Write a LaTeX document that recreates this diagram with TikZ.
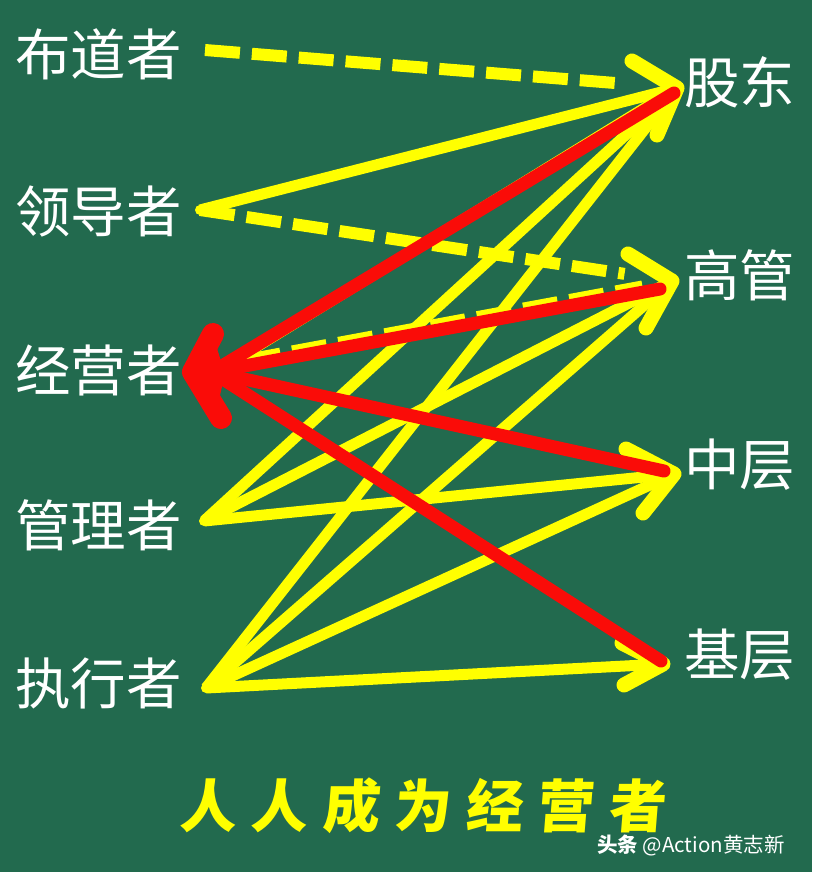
\documentclass[tikz,border=0pt]{standalone}
\usepackage{fontspec}
\usetikzlibrary{calc}
\newfontfamily\cjk{Noto Sans CJK SC}
\definecolor{bg}{RGB}{34,106,78}
\definecolor{ylw}{RGB}{255,255,0}
\definecolor{rd}{RGB}{250,12,8}
\begin{document}
\begin{tikzpicture}[x=1pt,y=-1pt,
  lab/.style={text=white,font=\cjk\fontsize{55.5}{55.5}\selectfont,inner sep=0pt,anchor=west},
  yline/.style={draw=ylw,line width=11pt,shorten >=8pt},
  ydash/.style={draw=ylw,line width=12pt,dash pattern=on 35pt off 12pt},
  chev/.style={draw=ylw,line width=15pt,line cap=round,line join=round},
  rline/.style={draw=rd,line width=13pt,line cap=round},
  rhead/.style={draw=rd,line width=22pt,line cap=round,line join=round}]
\fill[bg] (0,0) rectangle (812,872);
\useasboundingbox (0,0) rectangle (812,872);

% labels
\node[lab] (bd) at (15,54) {布道者};
\node[lab] (ld) at (15,211) {领导者};
\node[lab] (jy) at (15,370) {经营者};
\node[lab] (gl) at (15,525) {管理者};
\node[lab] (zx) at (15,683) {执行者};
\node[lab] (gd) at (684,82) {股东};
\node[lab] (gg) at (684,275) {高管};
\node[lab] (zc) at (684,465) {中层};
\node[lab] (jc) at (684,655) {基层};

% connector end points
\coordinate (sBD) at (205,50);
\coordinate (sLD) at (200,210);
\coordinate (sJY) at (232,362);
\coordinate (sJYd) at (246,360);
\coordinate (sGL) at (204,521);
\coordinate (sZX) at (206,688);
\coordinate (tGD) at (677,88);
\coordinate (tGG) at (672,281);
\coordinate (tZC) at (674,474);
\coordinate (tJC) at (663,664);
\coordinate (hJY) at (193,372);
\coordinate (rGD) at (674,93);
\coordinate (rGG) at (660,289);
\coordinate (rZC) at (664,471);
\coordinate (rJC) at (661,661);
\coordinate (eJY) at (212,372);

% yellow solid arrows
\draw[yline] (sLD) -- (tGD);
\draw[yline] (sJY) -- (tGD);
\draw[yline] (sGL) -- (tGD);
\draw[yline] (sGL) -- (tGG);
\draw[yline] (sGL) -- (tZC);
\draw[yline] (sZX) -- (tGD);
\draw[yline] (sZX) -- (tGG);
\draw[yline] (sZX) -- (tZC);
\draw[yline] (sZX) -- (tJC);
% corners at start points
\fill[ylw] (sLD) circle (5pt);
\fill[ylw] (sGL) circle (5pt);
\fill[ylw] (sZX) circle (5pt);

% yellow dashed arrows
\draw[ydash,shorten >=58pt] (sBD) -- (tGD);
\draw[ydash,shorten >=48pt] (sLD) -- (tGG);
\draw[ydash,shorten >=30pt] (sJYd) -- (tGG);

% yellow arrow heads
\draw[chev] ($(tGD)+(-45,-27)$) -- (tGD) -- ++(-20,47);
\draw[chev] ($(tGG)+(-44,-27)$) -- (tGG) -- ++(-26,47);
\draw[chev] ($(tZC)+(-48,-25)$) -- (tZC) -- ++(-31,39);
\draw[chev] ($(tJC)+(-41,-21)$) -- (tJC) -- ++(-39,21);

% red arrows
\draw[rline] (rGD) -- (eJY);
\draw[rline] (rGG) -- (eJY);
\draw[rline] (rZC) -- (eJY);
\draw[rline] (rJC) -- (eJY);
\draw[rhead] ($(hJY)+(20,-38)$) -- (hJY) -- ++(28,46);
\fill[rd] ($(hJY)+(2,0)$) -- ($(hJY)+(22,-30)$) -- ($(hJY)+(32,2)$) -- ($(hJY)+(24,36)$) -- cycle;

% bottom title
\node[inner sep=0pt,text=ylw,font=\cjk\bfseries\fontsize{57}{57}\selectfont,xslant=0.08] (title) at (424,806)
  {人\hspace{14.5pt}人\hspace{14.5pt}成\hspace{14.5pt}为\hspace{14.5pt}经\hspace{14.5pt}营\hspace{14.5pt}者};
\node[inner sep=0pt,anchor=west,text=white,font=\cjk\fontsize{20.5}{20.5}\selectfont] (wm) at (597,845) {{\bfseries 头条} @Action黄志新};
\end{tikzpicture}
\end{document}
